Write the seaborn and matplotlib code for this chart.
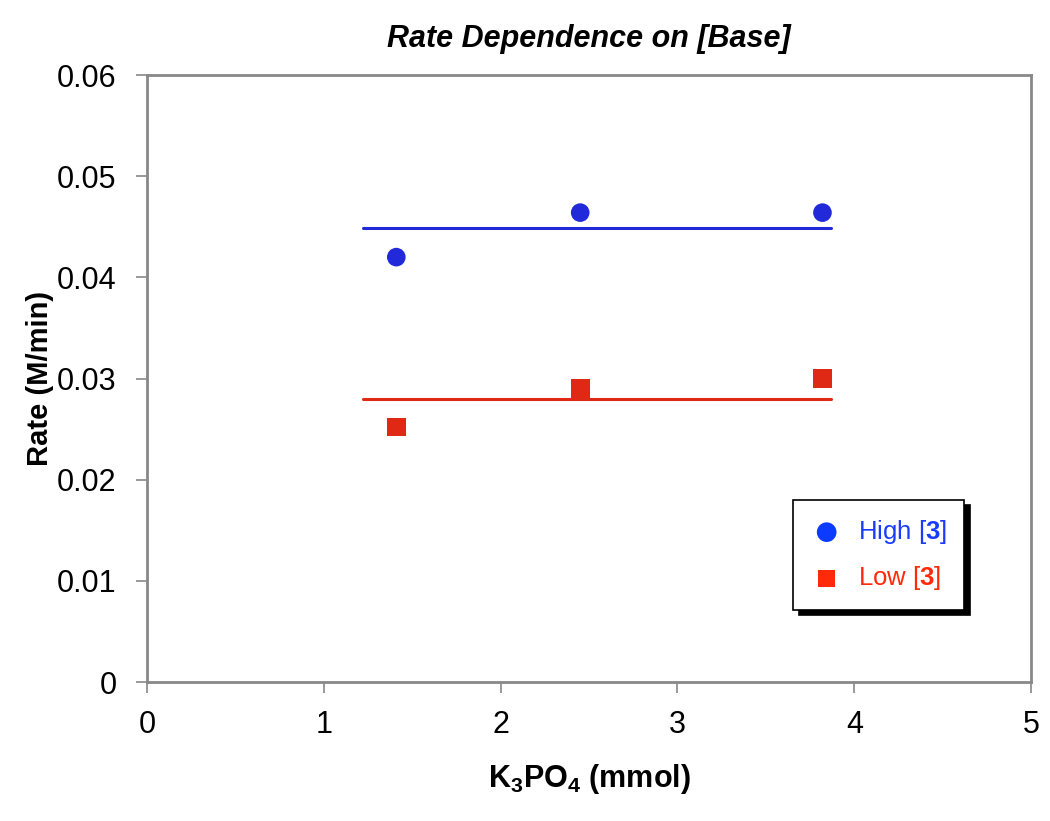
import matplotlib
matplotlib.use('Agg')
import matplotlib.pyplot as plt
import seaborn as sns
import pandas as pd

# K3PO4 loading (mmol) and measured rates (M/min)
base_mmol = [1.41, 2.45, 3.82]
rate_high = [0.0420, 0.0464, 0.0464]
rate_low = [0.0252, 0.0290, 0.0300]

# flat fit lines drawn through each series
fit_x = [1.22, 3.87]
fit_high = [0.0449, 0.0449]
fit_low = [0.0280, 0.0280]

y_ticks = [0, 0.01, 0.02, 0.03, 0.04, 0.05, 0.06]
x_ticks = [0, 1, 2, 3, 4, 5]

sns.set_style('white')
plt.rcParams['font.family'] = ['Liberation Sans', 'DejaVu Sans']
plt.rcParams['mathtext.fontset'] = 'custom'
plt.rcParams['mathtext.rm'] = 'Liberation Sans'
plt.rcParams['mathtext.bf'] = 'Liberation Sans:bold'
for key in ['text.color', 'axes.labelcolor', 'xtick.labelcolor', 'ytick.labelcolor']:
    plt.rcParams[key] = 'black'

blue = '#2129d9'
red = '#e02914'

df = pd.DataFrame({
    'x': base_mmol * 2,
    'rate': rate_high + rate_low,
    'series': ['High'] * 3 + ['Low'] * 3,
})

fig = plt.figure(figsize=(10.5, 8.21), dpi=100)
ax = fig.add_axes([0.14, 0.1693, 0.842, 0.7393])

sns.lineplot(x=fit_x, y=fit_high, color=blue, linewidth=2.2, ax=ax, legend=False)
sns.lineplot(x=fit_x, y=fit_low, color=red, linewidth=2.2, ax=ax, legend=False)
sns.scatterplot(data=df, x='x', y='rate', hue='series', style='series',
                palette={'High': blue, 'Low': red},
                markers={'High': 'o', 'Low': 's'},
                s=180, edgecolor='none', ax=ax, legend=False)

ax.set_xlim(0, 5)
ax.set_ylim(0, 0.06)
ax.set_xticks(x_ticks)
ax.set_yticks(y_ticks)
ax.set_yticklabels(['0' if v == 0 else f'{v:.2f}' for v in y_ticks])
ax.tick_params(axis='both', labelsize=22, length=8, width=1.2, color='#888888',
               labelcolor='black', direction='out', bottom=True, left=True)
ax.tick_params(axis='x', pad=12)
ax.tick_params(axis='y', pad=14)
for sp in ax.spines.values():
    sp.set_color('#888888')
    sp.set_linewidth(2)

ax.set_xlabel(r'K$_\mathbf{3}$PO$_\mathbf{4}$ (mmol)', fontsize=22, fontweight='bold',
              labelpad=16, color='black')
ax.set_ylabel('Rate (M/min)', fontsize=21, fontweight='bold', labelpad=2, color='black')
ax.set_title('Rate Dependence on [Base]', fontsize=22, fontweight='bold',
             fontstyle='italic', pad=20, color='black')

# legend built from the two series
h1 = ax.scatter([], [], marker='o', s=200, color='#0b3bff', edgecolor='none')
h2 = ax.scatter([], [], marker='s', s=150, color='#ff2a0a', edgecolor='none')
leg = ax.legend([h1, h2], [r'High [$\mathbf{3}$]', r'Low [$\mathbf{3}$]'],
                loc='upper left', bbox_to_anchor=(0.731, 0.30), borderaxespad=0,
                fontsize=18.5, frameon=True, fancybox=False, edgecolor='black',
                framealpha=1, borderpad=0.7, labelspacing=0.7, handlelength=1.2,
                handletextpad=0.6,
                shadow={'color': 'black', 'alpha': 1, 'ox': 4, 'oy': -4})
leg.get_frame().set_linewidth(1.2)
leg.get_texts()[0].set_color('#1a3cff')
leg.get_texts()[1].set_color('#ff2a0a')

fig.savefig('out.png', dpi=100)
